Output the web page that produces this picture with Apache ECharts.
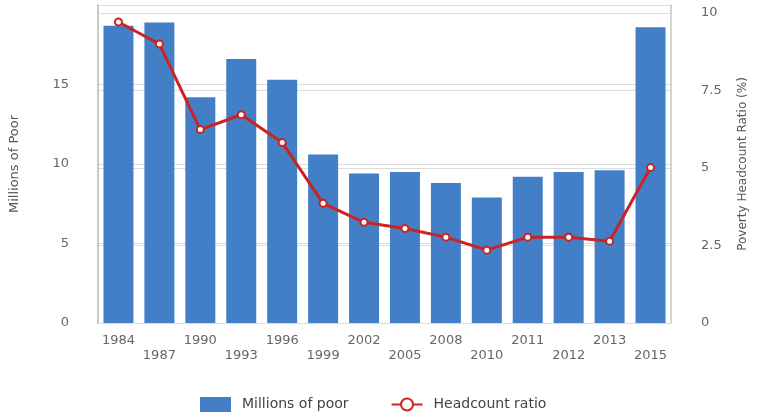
<!DOCTYPE html>
<html>
<head>
<meta charset="utf-8">
<script src="https://cdn.jsdelivr.net/npm/echarts@6/dist/echarts.min.js"></script>
<style>
  html, body { margin: 0; padding: 0; background: #fff; }
  #container { width: 757px; height: 412px; }
</style>
</head>
<body>
<div id="container"></div>
<script>
// years on the x axis
var years = ['1984', '1987', '1990', '1993', '1996', '1999', '2002', '2005', '2008', '2010', '2011', '2012', '2013', '2015'];
// millions of poor (left axis)
var poorMillions = [18.7, 18.9, 14.2, 16.6, 15.3, 10.6, 9.4, 9.5, 8.8, 7.9, 9.2, 9.5, 9.6, 18.6];
// poverty headcount ratio in % (right axis)
var headcountRatio = [9.71, 9.0, 6.24, 6.72, 5.82, 3.86, 3.25, 3.05, 2.77, 2.35, 2.77, 2.77, 2.64, 5.02];

var dom = document.getElementById('container');
var myChart = echarts.init(dom);

var textGrey = '#666';
var frameColor = '#c5cbbf';
var gridGrey = '#dcdcdc';

var option = {
    animation: false,
    textStyle: { fontFamily: 'DejaVu Sans' },
    grid: { left: 92, right: 77, top: 5, bottom: 89 },
    legend: {
        left: 195,
        top: 392,
        itemWidth: 31,
        itemHeight: 15,
        itemGap: 42,
        textStyle: { color: '#444', fontSize: 14, padding: [0, 0, 0, 6] },
        data: [
            { name: 'Millions of poor', icon: 'rect' },
            { name: 'Headcount ratio' }
        ]
    },
    xAxis: {
        type: 'category',
        data: years,
        axisLine: { show: false },
        axisTick: { alignWithLabel: true, length: 12, lineStyle: { color: '#b8cfe8', width: 1 } },
        axisLabel: {
            interval: 0,
            margin: 10,
            color: textGrey,
            fontSize: 13,
            lineHeight: 15,
            formatter: function (v, i) { return i % 2 ? '\n' + v : v; }
        }
    },
    yAxis: [
        {
            type: 'value',
            min: 0,
            max: 20,
            interval: 5,
            name: 'Millions of Poor',
            nameLocation: 'middle',
            nameGap: 77,
            nameTextStyle: { color: '#555', fontSize: 13 },
            axisLine: { show: true, lineStyle: { color: frameColor, width: 2 } },
            axisTick: { show: false },
            axisLabel: {
                color: textGrey,
                fontSize: 13,
                margin: 29,
                formatter: function (v) { return v === 20 ? '' : v; }
            },
            splitLine: { lineStyle: { color: [gridGrey, gridGrey, gridGrey, gridGrey, frameColor], width: 1 } }
        },
        {
            type: 'value',
            min: 0,
            max: 10.26,
            interval: 2.5,
            position: 'right',
            name: 'Poverty Headcount Ratio (%)',
            nameLocation: 'middle',
            nameGap: 66,
            nameRotate: 90,
            nameTextStyle: { color: '#555', fontSize: 12 },
            axisLine: { show: true, lineStyle: { color: frameColor, width: 1.5 } },
            axisTick: { show: false },
            axisLabel: {
                color: textGrey,
                fontSize: 13,
                margin: 30,
                formatter: function (v) { return (Math.round(v * 100) % 250 === 0) ? String(v) : ''; }
            },
            splitLine: { show: true, lineStyle: { color: gridGrey, width: 1 } }
        }
    ],
    series: [
        {
            name: 'Millions of poor',
            type: 'bar',
            yAxisIndex: 0,
            barWidth: 30,
            itemStyle: { color: '#437fc6' },
            data: poorMillions
        },
        {
            name: 'Headcount ratio',
            type: 'line',
            yAxisIndex: 1,
            symbol: 'circle',
            symbolSize: 7,
            lineStyle: { color: '#cc2222', width: 3 },
            itemStyle: { color: '#fff', borderColor: '#cc2222', borderWidth: 2 },
            data: headcountRatio
        }
    ]
};

myChart.setOption(option);
</script>
</body>
</html>
